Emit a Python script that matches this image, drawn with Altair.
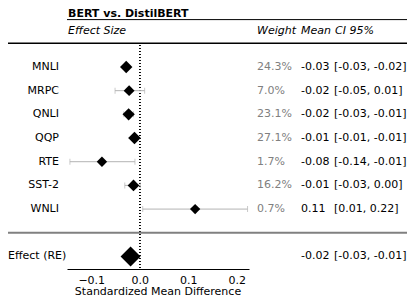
import altair as alt
import pandas as pd

# ---- data ----
title_text = "BERT vs. DistilBERT"
studies = ["MNLI", "MRPC", "QNLI", "QQP", "RTE", "SST-2", "WNLI"]
means = [-0.028, -0.022, -0.023, -0.011, -0.078, -0.013, 0.114]
ci_low = [-0.032, -0.051, -0.033, -0.014, -0.144, -0.031, 0.006]
ci_high = [-0.024, 0.010, -0.013, -0.008, -0.010, 0.001, 0.222]
weights = [24.3, 7.0, 23.1, 27.1, 1.7, 16.2, 0.7]
mean_labels = ["-0.03", "-0.02", "-0.02", "-0.01", "-0.08", "-0.01", "0.11"]
ci_labels = ["[-0.03, -0.02]", "[-0.05, 0.01]", "[-0.03, -0.01]", "[-0.01, -0.01]",
             "[-0.14, -0.01]", "[-0.03, 0.00]", "[0.01, 0.22]"]
summary_name = ["Effect (RE)"]
summary_mean = [-0.019]
summary_mean_label = ["-0.02"]
summary_ci_label = ["[-0.03, -0.01]"]
x_ticks = [-0.1, 0.0, 0.1, 0.2]
headers = ["Effect Size", "Weight", "Mean", "CI 95%"]
x_title = ["Standardized Mean Difference"]

studies_df = pd.DataFrame({
    "study": studies,
    "row": list(range(len(studies))),
    "mean": means,
    "lo": ci_low,
    "hi": ci_high,
    "weight": weights,
    "weight_label": [f"{w:.1f}%" for w in weights],
    "mean_label": mean_labels,
    "ci_label": ci_labels,
})
summary_df = pd.DataFrame({
    "study": summary_name,
    "row": [len(studies) + 1],
    "mean": summary_mean,
    "mean_label": summary_mean_label,
    "ci_label": summary_ci_label,
})

FONT = "DejaVu Sans"
FS = 11
W, H = 182, 261

xs = alt.Scale(domain=[-0.15, 0.225], nice=False, zero=False)
ys = alt.Scale(domain=[-2.49, 8.53], nice=False, zero=False, reverse=True)
Y = alt.Y("row:Q", scale=ys, axis=None)

base = alt.Chart(studies_df)
WH = "#b3b3b3"

whisk = base.mark_rule(color=WH, strokeWidth=1).encode(
    x=alt.X("lo:Q", scale=xs), x2="hi:Q", y=Y)
cap_lo = base.mark_tick(color=WH, orient="vertical", size=6, thickness=1).encode(
    x=alt.X("lo:Q", scale=xs), y=Y)
cap_hi = base.mark_tick(color=WH, orient="vertical", size=6, thickness=1).encode(
    x=alt.X("hi:Q", scale=xs), y=Y)

zero = alt.Chart(studies_df).mark_rule(color="black", strokeDash=[1, 2], strokeWidth=1).encode(
    x=alt.datum(0, scale=xs), y=alt.value(37), y2=alt.value(H))

points = base.mark_point(shape="diamond", filled=True, color="black", opacity=1).encode(
    x=alt.X("mean:Q", scale=xs,
            axis=alt.Axis(values=x_ticks, format=".1f", title=None, ticks=False,
                          grid=False, domainColor="black", domainWidth=1,
                          labelFont=FONT, labelFontSize=FS, labelColor="black",
                          labelPadding=5)),
    y=Y,
    size=alt.Size("weight:Q", scale=alt.Scale(domain=[0, 30], range=[105, 165]), legend=None),
)

summ = alt.Chart(summary_df).mark_point(shape="diamond", filled=True, color="black",
                                         opacity=1, size=400).encode(
    x=alt.X("mean:Q", scale=xs), y=Y)

def txt(df, field, xpx, align="left", color="black", **kw):
    return alt.Chart(df).mark_text(align=align, baseline="middle", font=FONT,
                                   fontSize=FS, color=color, **kw).encode(
        x=alt.value(xpx), y=Y, text=f"{field}:N")

X_W, X_M, X_C = 190, 234, 267

row_lbl = txt(studies_df, "study", -8, align="right")
sum_lbl = txt(summary_df, "study", -59, align="left")
w_lbl = txt(studies_df, "weight_label", X_W, color="#808080")
m_lbl = txt(studies_df, "mean_label", X_M)
c_lbl = txt(studies_df, "ci_label", X_C)
sm_lbl = txt(summary_df, "mean_label", X_M)
sc_lbl = txt(summary_df, "ci_label", X_C)

hdr_df = pd.DataFrame({"h": headers})
def header(i, xpx):
    return alt.Chart(hdr_df).transform_filter(alt.datum.h == headers[i]).mark_text(
        align="left", baseline="middle", font=FONT, fontSize=FS, fontStyle="italic",
        color="black").encode(x=alt.value(xpx), y=alt.datum(-1.5, scale=ys), text="h:N")

h0 = header(0, 1)
h1 = header(1, X_W)
h2 = header(2, X_M)
h3 = header(3, X_C + 1)

title = alt.Chart(pd.DataFrame({"t": [title_text]})).mark_text(
    align="left", baseline="alphabetic", font=FONT, fontSize=11, fontWeight="bold",
    color="black").encode(x=alt.value(1), y=alt.value(8.5), text="t:N")

xtitle = alt.Chart(pd.DataFrame({"t": x_title})).mark_text(
    align="center", baseline="alphabetic", font=FONT, fontSize=FS,
    color="black").encode(x=alt.value(W / 2), y=alt.value(H + 26), text="t:N")

line_df = pd.DataFrame({"k": [0]})
line_title = alt.Chart(line_df).mark_rule(color="black", strokeWidth=1).encode(
    x=alt.value(0), x2=alt.value(340), y=alt.datum(-2, scale=ys))
line_hdr = alt.Chart(line_df).mark_rule(color="black", strokeWidth=1.5).encode(
    x=alt.value(-59), x2=alt.value(340), y=alt.datum(-1, scale=ys))
line_sep = alt.Chart(line_df).mark_rule(color="#808080", strokeWidth=2).encode(
    x=alt.value(-59), x2=alt.value(340), y=alt.datum(7, scale=ys))

chart = alt.layer(
    zero, whisk, cap_lo, cap_hi, points, summ,
    row_lbl, sum_lbl, w_lbl, m_lbl, c_lbl, sm_lbl, sc_lbl,
    h0, h1, h2, h3, title, xtitle, line_title, line_hdr, line_sep,
).properties(
    width=W, height=H,
    background="white",
    autosize=alt.AutoSizeParams(type="none"),
    padding={"left": 59, "top": 0, "right": 158, "bottom": 34},
).configure_view(stroke="transparent", strokeWidth=0)

chart.save("out.html", embed_options={"renderer": "svg", "actions": False})
